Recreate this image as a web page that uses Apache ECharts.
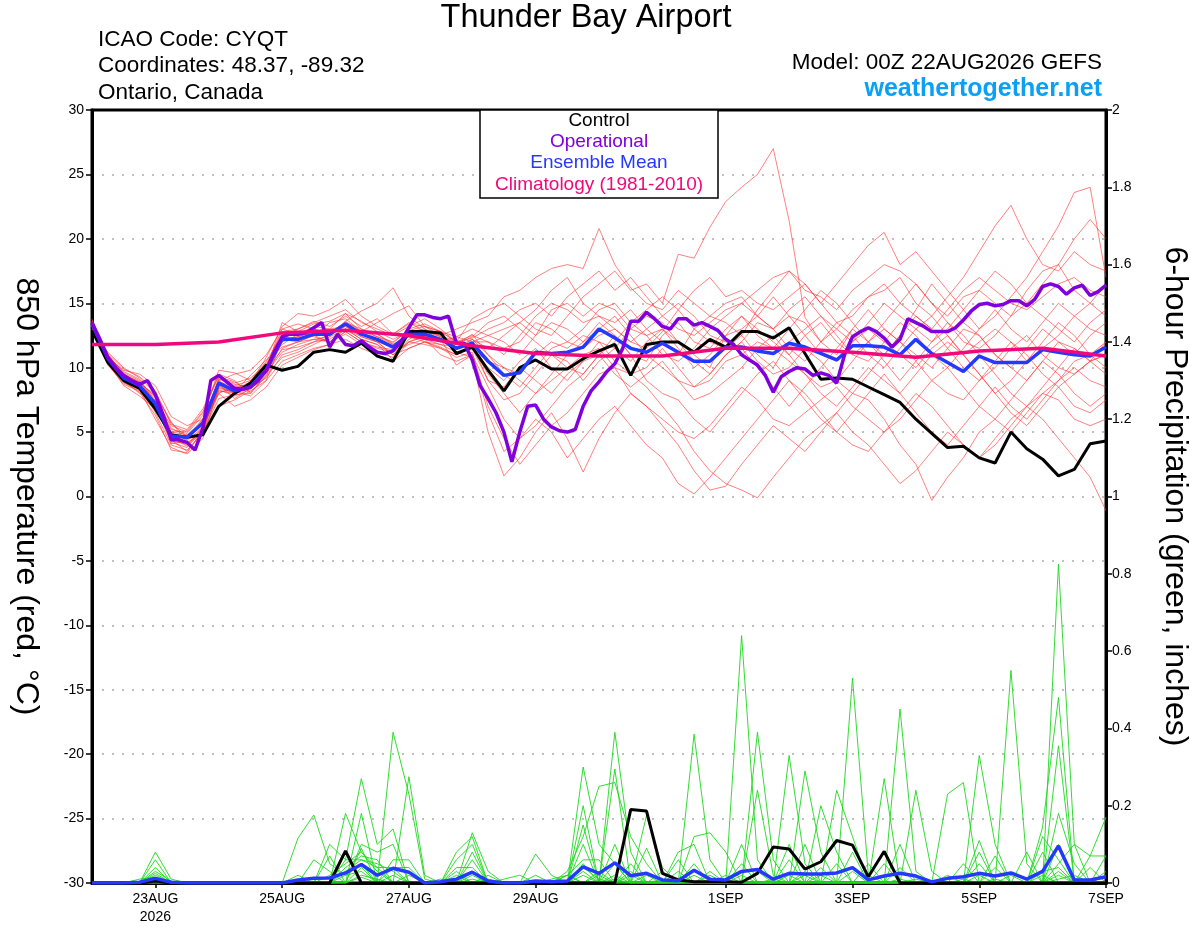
<!DOCTYPE html>
<html><head><meta charset="utf-8">
<script src="https://cdn.jsdelivr.net/npm/echarts@6/dist/echarts.min.js"></script>
<style>html,body{margin:0;padding:0;background:#fff}#c{width:1200px;height:927px}</style>
</head><body><div id="c"></div>
<script>
// ---------- axis / tick data ----------
const xLabelHours = [24, 72, 120, 168, 240, 288, 336, 384];
const xLabelTexts = ['23AUG\n2026', '25AUG', '27AUG', '29AUG', '1SEP', '3SEP', '5SEP', '7SEP'];
const stepHours = 6;        // ensemble / control / mean resolution
const opStepHours = 3;      // operational resolution
const climStepHours = 24;   // climatology resolution

// ---------- 850 hPa temperature (deg C), 6-hourly from 00Z 22AUG ----------
const controlTemp = [12.9,10.4,9.0,8.4,6.8,4.8,4.6,4.8,7.0,8.0,8.8,10.2,9.8,10.1,11.2,11.4,11.2,11.9,10.9,10.5,12.8,12.8,12.7,11.1,11.6,9.8,8.2,10.0,10.6,9.9,9.9,10.7,11.3,11.8,9.4,11.8,12.0,12.0,11.2,12.2,11.6,12.8,12.8,12.3,13.1,11.1,9.1,9.2,9.1,8.5,7.9,7.3,6.0,4.9,3.8,3.9,3.0,2.6,5.0,3.7,2.9,1.6,2.1,4.1,4.3];
const meanTemp = [13.4,10.7,9.2,8.6,7.2,4.7,4.6,5.7,8.8,8.2,8.5,9.8,12.2,12.2,12.6,12.6,13.4,12.6,12.2,11.6,12.6,12.6,12.2,11.5,11.9,10.5,9.4,9.6,11.2,11.1,11.2,11.6,13.0,12.3,11.5,11.2,11.9,11.2,10.5,10.5,11.6,11.6,11.3,11.1,11.9,11.6,11.1,10.6,11.7,11.7,11.6,11.0,12.2,11.1,10.4,9.7,10.9,10.4,10.4,10.4,11.4,11.2,11.0,10.9,11.6];
// operational: 3-hourly
const operationalTemp = [13.5,12.2,10.8,10.0,9.4,9.0,8.7,9.0,7.9,6.3,4.4,4.4,4.2,3.6,5.3,9.0,9.4,8.9,8.4,8.3,8.5,9.0,9.8,11.2,12.4,12.6,12.6,12.7,13.1,13.5,11.6,12.6,11.8,11.7,12.1,11.6,11.2,11.1,11.3,12.0,13.1,14.1,14.1,13.9,13.8,14.0,11.9,11.9,10.6,8.6,7.6,6.5,5.0,2.7,5.0,7.0,7.1,6.0,5.4,5.1,5.0,5.2,7.0,8.2,8.9,9.7,10.3,11.5,13.6,13.6,14.3,13.8,13.2,13.0,13.8,13.8,13.3,13.5,13.2,12.9,12.2,11.8,11.0,10.6,10.2,9.4,8.1,9.3,9.7,10.0,9.9,9.4,9.6,9.4,8.8,11.0,12.4,12.8,13.1,12.8,12.3,11.6,12.2,13.8,13.5,13.2,12.8,12.8,12.8,13.1,13.7,14.4,14.9,15.0,14.8,14.9,15.2,15.2,14.8,15.3,16.3,16.5,16.3,15.7,16.2,16.4,15.6,15.9,16.4];
// climatology: daily
const climatologyTemp = [11.8,11.8,12.0,12.7,12.9,12.5,11.7,11.1,10.9,10.9,11.5,11.5,11.2,10.8,11.3,11.5,10.9];

// ensemble members (red)
const tempM01 = [13.2,11.0,9.5,8.9,6.5,4.0,3.6,5.0,8.0,8.6,9.0,10.5,12.5,13.0,13.5,14.0,14.5,13.5,13.0,12.5,13.2,13.8,13.0,12.0,12.5,12.0,11.0,12.5,14.0,15.0,14.5,13.5,14.0,13.0,12.0,11.5,12.8,14.5,16.0,17.0,15.5,16.0,15.0,14.5,15.5,16.5,15.0,13.5,14.0,15.5,16.5,15.0,14.0,13.0,14.5,16.0,17.0,16.0,15.0,14.5,15.5,16.5,17.0,16.0,15.5];
const tempM02 = [13.6,10.5,9.0,8.0,7.5,5.5,5.0,6.5,9.5,9.0,8.0,9.5,11.5,12.0,12.5,12.0,13.0,12.2,11.8,11.0,12.0,12.5,12.2,11.8,12.6,11.0,9.5,8.5,10.0,11.5,12.0,13.0,14.5,15.0,13.5,12.5,13.0,12.0,11.0,10.0,12.5,13.0,14.0,15.5,14.0,12.5,11.0,10.5,12.0,13.0,12.0,11.0,10.0,11.5,12.5,11.0,9.5,8.0,9.0,10.5,12.0,13.5,12.5,11.0,12.0];
const tempM03 = [13.0,11.2,10.0,9.2,8.0,5.8,4.2,4.8,7.0,7.5,8.2,9.0,10.5,11.0,11.5,11.8,12.8,12.0,11.5,11.2,11.8,12.2,11.0,10.5,11.0,8.5,6.0,4.5,5.5,7.0,8.5,9.5,11.0,12.5,11.0,9.0,8.0,7.5,6.0,5.0,6.5,8.0,9.5,10.5,9.0,7.5,6.0,5.0,6.5,8.0,9.5,8.0,6.5,5.0,4.0,5.5,7.0,8.5,7.0,6.0,7.5,9.0,10.0,9.0,8.5];
const tempM04 = [13.8,10.2,8.8,8.3,6.0,3.8,3.3,4.5,8.5,8.0,8.8,10.8,13.2,14.2,14.0,14.5,15.3,14.0,13.2,12.6,13.5,12.8,12.5,13.0,13.5,14.0,15.5,16.0,17.0,17.7,18.0,17.7,20.8,18.0,16.2,15.0,14.5,16.0,15.0,14.0,15.0,15.5,14.0,13.0,14.0,13.5,12.0,13.0,14.5,15.5,16.0,17.0,15.0,14.0,15.5,17.0,19.0,21.0,22.6,20.0,18.0,17.5,19.0,18.0,17.5];
const tempM05 = [13.3,10.8,9.8,9.5,8.6,6.2,5.5,6.0,9.0,9.5,9.8,11.0,13.0,12.6,13.0,12.7,13.5,13.0,12.6,11.9,13.0,13.4,12.8,12.0,11.5,9.0,7.5,8.0,9.5,11.0,10.5,9.0,10.5,11.5,13.0,14.0,13.5,12.0,10.5,9.5,11.0,12.0,13.5,13.0,11.5,10.5,12.0,13.5,12.5,11.0,10.0,11.5,13.0,14.0,12.5,11.0,12.0,13.0,12.0,10.5,11.5,12.5,14.0,15.0,14.0];
const tempM06 = [13.5,10.6,9.0,8.5,7.0,4.5,4.0,5.2,8.6,8.0,8.4,9.2,11.0,11.4,12.0,12.2,13.0,12.4,12.0,11.0,11.5,12.0,11.5,10.8,11.2,7.0,4.5,2.5,4.0,5.5,6.5,8.0,9.5,10.0,9.5,8.5,7.0,5.5,3.5,2.0,1.0,0.5,-0.1,1.5,3.0,4.5,5.5,6.5,5.0,4.0,2.5,1.0,2.0,3.5,5.0,4.0,3.0,4.5,6.0,7.0,8.0,7.5,6.0,5.5,6.0];
const tempM07 = [13.1,10.9,9.4,8.8,7.8,5.0,4.8,5.8,8.0,7.0,7.5,8.5,10.2,10.8,11.4,11.8,12.2,11.5,11.0,10.5,11.5,12.0,11.8,11.2,10.8,5.0,1.6,3.0,5.0,6.5,4.5,1.9,4.5,6.5,8.0,7.0,5.5,4.0,2.0,0.5,0.8,2.5,4.0,5.5,4.5,3.5,5.0,6.5,8.0,7.5,6.0,4.0,2.5,-0.3,1.5,3.0,5.0,6.0,5.0,6.5,8.0,9.0,10.5,11.0,10.0];
const tempM08 = [13.6,10.4,8.6,7.8,6.8,4.4,3.5,5.0,9.2,8.8,9.2,10.2,12.8,13.0,13.6,13.2,14.0,13.2,13.8,12.6,13.4,13.2,12.8,12.0,12.3,13.0,13.5,14.5,15.0,14.0,15.5,16.5,17.5,16.0,17.0,15.5,14.0,13.0,12.5,13.5,14.5,15.0,16.0,17.0,17.5,16.0,15.5,14.5,16.0,17.0,18.0,17.5,16.5,15.0,14.0,15.5,16.0,15.0,14.0,15.0,16.5,18.0,20.0,21.5,20.0];
const tempM09 = [13.4,11.0,9.6,9.0,7.3,5.2,4.9,6.3,9.8,9.6,9.0,10.0,12.0,12.4,12.8,13.0,14.2,13.6,12.8,12.2,12.8,12.4,12.0,12.4,13.0,12.5,12.0,11.0,12.5,13.5,13.0,12.0,13.0,14.0,12.5,11.0,10.0,9.0,8.5,9.5,11.0,12.0,10.5,9.5,10.0,11.5,10.5,9.0,8.0,9.5,11.0,12.5,14.0,13.0,11.5,10.0,9.0,10.0,11.5,12.5,11.0,10.0,9.5,10.5,11.0];
const tempM10 = [13.2,10.7,9.3,8.7,7.6,4.2,3.8,5.5,8.3,7.8,8.3,9.6,11.2,11.8,12.2,12.0,12.8,12.0,11.6,11.4,12.4,12.0,11.6,11.0,11.6,10.0,9.0,10.5,11.5,10.0,9.0,10.5,12.0,11.5,10.5,12.0,13.0,11.5,10.0,11.0,12.5,14.0,12.5,11.5,13.0,14.5,16.0,15.0,13.5,12.0,11.0,12.5,14.5,16.5,15.0,13.5,12.5,11.0,10.0,11.5,13.0,12.0,11.0,12.5,13.5];
const tempM11 = [13.7,10.3,8.7,8.2,6.6,4.8,4.5,6.0,9.0,8.2,7.8,9.0,12.2,12.0,12.5,13.5,13.8,12.8,13.5,14.2,14.8,13.2,12.5,12.0,13.8,14.5,15.0,14.0,13.0,12.5,14.0,15.5,16.5,17.5,16.0,16.5,15.0,18.8,18.5,20.9,22.9,24.0,25.0,27.0,21.4,13.9,12.0,11.0,13.0,14.5,13.0,12.0,11.0,10.0,11.5,13.0,12.5,11.0,10.0,9.0,10.5,12.0,11.5,10.5,11.0];
const tempM12 = [13.0,11.1,9.9,9.3,8.2,5.6,5.2,6.8,9.4,8.4,8.6,9.9,13.5,12.8,12.4,12.0,12.6,11.8,11.2,10.8,12.2,12.8,12.6,11.4,12.2,11.0,10.0,9.5,11.0,12.0,11.5,12.5,12.0,10.5,9.5,10.0,11.5,10.0,8.5,9.0,10.5,11.0,12.0,11.5,10.5,9.5,8.5,9.0,10.5,12.0,13.0,12.0,10.5,9.0,8.0,7.5,9.0,10.5,12.0,11.0,9.5,8.5,7.0,6.5,7.5];
const tempM13 = [13.5,10.5,9.1,8.4,7.1,4.1,4.3,5.4,8.1,8.3,8.9,10.4,11.8,12.6,13.2,13.0,13.2,12.4,12.0,11.0,12.0,11.8,11.5,11.0,11.6,9.5,8.0,6.5,8.0,9.0,10.0,11.0,11.5,10.0,8.0,7.0,6.0,5.0,4.5,5.5,7.0,8.5,7.5,6.0,5.5,6.5,7.5,8.5,7.0,6.0,5.0,6.0,7.5,9.0,10.0,8.5,7.0,6.0,7.5,9.0,10.5,9.5,8.0,7.0,8.0];
const tempM14 = [13.3,10.8,9.2,8.6,6.9,4.6,3.9,5.0,7.6,7.9,8.0,9.4,10.8,11.2,11.8,12.4,13.6,14.4,15.0,16.2,14.0,13.0,12.4,11.5,12.0,12.5,13.0,13.5,14.5,16.0,17.0,15.0,14.0,13.5,14.5,13.0,12.0,11.0,13.0,12.0,11.5,12.5,14.5,16.0,17.5,16.5,15.0,16.5,18.0,19.5,20.5,18.0,19.0,17.5,16.0,14.5,13.0,14.0,15.5,17.0,19.0,21.0,23.6,24.0,17.0];
const tempM15 = [13.4,10.6,9.4,8.9,7.7,5.3,4.7,6.0,8.9,8.5,8.7,9.7,12.4,12.2,12.6,12.8,13.4,12.8,12.4,11.8,12.6,12.6,12.2,11.2,11.4,10.5,10.0,9.0,8.0,9.5,11.0,12.0,13.5,12.5,11.0,10.5,12.5,13.5,12.0,11.5,13.0,14.0,13.0,12.0,11.0,12.5,13.5,12.0,11.0,10.5,12.0,13.5,12.5,11.0,10.0,11.5,13.0,14.5,13.0,12.0,13.5,15.0,14.0,13.0,12.5];
const tempM16 = [13.6,10.9,9.7,9.1,7.4,4.9,4.4,5.9,9.1,8.7,8.5,10.1,13.0,13.4,13.0,12.6,13.2,12.6,12.2,11.6,12.8,13.0,12.0,11.8,12.4,13.5,14.0,13.0,12.0,11.0,10.0,9.5,11.0,12.0,13.5,14.5,15.5,14.5,13.0,14.0,13.5,12.5,11.0,10.0,12.0,13.0,14.0,13.0,12.0,13.5,15.0,14.0,13.0,12.0,13.0,14.5,16.0,17.5,16.5,15.0,14.0,13.0,12.0,13.5,14.5];
const tempM17 = [13.1,10.4,8.9,8.1,6.3,3.6,3.4,5.1,8.4,8.1,9.4,10.6,11.6,12.0,12.2,12.4,13.0,12.2,11.8,10.6,12.0,12.4,12.2,10.2,11.0,6.5,3.5,4.5,6.0,5.0,3.0,4.5,6.0,7.0,5.5,4.0,3.0,1.0,0.2,1.5,3.0,4.5,6.0,7.5,9.0,8.0,6.5,5.0,4.0,3.5,5.0,6.5,8.0,7.0,5.5,4.0,3.0,4.0,5.5,7.0,6.0,4.5,3.0,1.5,-1.1];
const tempM18 = [13.5,10.7,9.3,8.7,7.2,5.0,5.1,6.6,9.3,8.9,8.1,9.3,12.6,12.8,13.4,13.6,14.2,13.0,12.4,12.0,12.9,13.2,12.8,12.4,12.0,12.0,11.5,12.0,13.5,13.0,12.0,11.5,12.5,13.0,12.0,13.0,14.0,15.0,14.0,12.5,12.0,11.5,10.0,8.5,7.0,8.5,10.0,11.5,13.0,12.0,10.5,9.0,10.5,12.0,13.5,12.5,11.0,9.5,8.0,7.0,8.5,10.0,11.5,10.5,9.5];
const tempM19 = [13.2,11.0,9.5,8.8,7.9,5.7,4.6,5.6,8.7,7.6,8.4,9.8,11.4,11.6,12.0,12.6,13.4,12.6,12.0,11.6,12.6,12.8,12.4,11.6,11.8,9.0,8.5,10.0,9.0,8.0,9.5,10.5,11.0,9.5,8.5,9.5,10.5,9.0,7.5,8.0,9.0,10.0,11.5,12.5,11.0,9.5,8.0,7.0,8.5,10.0,9.0,8.0,9.5,11.0,12.0,11.0,9.5,8.0,6.5,5.5,7.0,8.5,9.5,10.5,12.0];
const tempM20 = [13.4,10.6,9.1,8.5,7.0,4.3,4.1,5.3,8.2,8.0,8.6,10.0,12.2,12.4,12.8,12.6,13.6,12.8,12.6,11.8,12.4,12.2,11.8,11.6,12.2,11.5,12.5,13.5,12.5,14.5,15.0,14.0,15.0,14.5,13.0,12.5,11.0,10.5,11.5,13.0,14.0,15.0,14.0,13.0,14.5,15.5,14.0,12.5,11.0,12.0,13.5,15.0,16.5,15.0,13.5,12.0,11.5,12.5,14.0,16.0,17.5,18.0,16.0,15.0,16.5];
const tempMembers = [tempM01,tempM02,tempM03,tempM04,tempM05,tempM06,tempM07,tempM08,tempM09,tempM10,tempM11,tempM12,tempM13,tempM14,tempM15,tempM16,tempM17,tempM18,tempM19,tempM20];

// ---------- 6-hour precipitation (inches) ----------
const controlPrecip = [0,0,0,0,0.005,0,0,0, 0,0,0,0,0,0,0,0, 0.083,0,0,0,0,0,0,0, 0,0,0,0,0,0,0,0, 0,0,0.19,0.186,0.025,0.008,0.003,0.003, 0.003,0.002,0.025,0.093,0.088,0.036,0.055,0.11, 0.098,0.016,0.082,0,0,0,0,0, 0,0,0,0,0,0,0,0, 0];
const meanPrecip = [0,0,0,0.002,0.012,0.002,0,0, 0,0,0,0,0,0.008,0.012,0.013, 0.026,0.048,0.02,0.038,0.028,0,0.003,0.01, 0.028,0.005,0,0,0.005,0.003,0.005,0.042, 0.025,0.052,0.019,0.025,0.008,0.006,0.033,0.01, 0.008,0.03,0.035,0.01,0.025,0.023,0.023,0.026, 0.04,0.008,0.018,0.025,0.018,0.003,0.012,0.016, 0.025,0.018,0.026,0.01,0.03,0.096,0.008,0.008, 0.016];
const precipM01 = [0,0,0,0,0.08,0.01,0,0, 0,0,0,0,0,0.116,0.176,0.05, 0.02,0.05,0,0.04,0,0,0,0, 0.06,0,0,0,0,0,0,0.30, 0.1,0.05,0,0,0,0,0.385,0.06, 0,0.05,0,0,0.06,0,0,0, 0.53,0.02,0,0,0,0,0,0, 0.11,0,0,0,0,0.18,0.05,0, 0];
const precipM02 = [0,0,0,0,0.06,0,0,0, 0,0,0,0,0,0,0,0, 0.18,0.08,0.03,0,0.275,0.02,0,0, 0.13,0.03,0,0,0,0,0,0.2, 0,0.39,0.08,0,0,0,0,0, 0,0.64,0.06,0,0,0,0.04,0, 0,0,0,0.45,0.03,0,0,0, 0,0,0.55,0.05,0,0.1,0,0, 0.07];
const precipM03 = [0,0,0,0,0.04,0,0,0, 0,0,0,0,0,0,0,0.1, 0.06,0.27,0.1,0.14,0,0,0,0.08, 0.12,0,0,0,0.075,0.02,0,0.15, 0,0.295,0,0.09,0,0,0,0, 0,0,0.39,0.06,0,0.1,0,0, 0,0,0.27,0,0,0,0,0.05, 0,0,0,0,0,0.825,0.1,0, 0];
const precipM04 = [0,0,0,0,0.03,0.005,0,0, 0,0,0,0,0,0,0,0, 0,0.18,0,0.39,0.23,0.01,0,0.06, 0.1,0,0,0,0,0,0.03,0.12, 0.25,0.26,0.12,0.05,0,0,0,0, 0,0,0,0,0.33,0.05,0,0, 0,0,0,0,0.24,0.03,0,0, 0,0,0,0,0.145,0.48,0,0, 0];
const precipM05 = [0,0,0,0,0.025,0,0,0, 0,0,0,0,0,0,0,0.07, 0,0.1,0.08,0.1,0,0,0,0, 0.08,0,0,0,0.02,0,0,0.1, 0,0.1,0,0.175,0.04,0,0.12,0.13, 0.08,0,0,0,0,0,0,0.24, 0.12,0,0,0,0,0,0,0, 0.33,0.1,0,0,0,0.355,0,0.07, 0.17];
const precipM06 = [0,0,0,0,0.02,0,0,0, 0,0,0,0,0,0,0.06,0.03, 0,0.09,0,0.06,0.06,0,0,0.04, 0.04,0,0,0,0,0,0.02,0.06, 0.06,0,0.05,0,0,0.08,0.1,0, 0,0,0,0,0,0.29,0.08,0, 0,0,0,0,0,0,0.23,0.26, 0,0,0,0,0.12,0.06,0,0, 0];
const precipM07 = [0,0,0,0.01,0.015,0,0,0, 0,0,0,0,0,0,0,0, 0.04,0.07,0.06,0,0,0,0.01,0, 0,0.02,0,0,0,0,0,0.04, 0.01,0,0.03,0,0,0.06,0,0, 0,0,0.24,0.02,0,0,0.2,0.08, 0,0,0,0.1,0,0,0,0, 0,0.07,0,0,0.08,0,0,0, 0.02];
const precipM08 = [0,0,0,0,0.01,0,0,0, 0,0,0,0,0,0.02,0,0, 0.06,0.06,0.04,0.04,0.04,0,0,0.03, 0,0,0.01,0.02,0,0.01,0.02,0, 0,0.05,0,0,0.03,0,0,0.03, 0,0.1,0,0,0.1,0,0,0, 0,0.05,0,0.04,0,0,0,0, 0.08,0,0,0,0,0.02,0,0, 0];
const precipM09 = [0,0,0,0,0.01,0,0,0, 0,0,0,0,0,0,0,0, 0.03,0.06,0.05,0.03,0,0,0,0, 0,0.01,0,0,0,0,0.02,0, 0.03,0,0,0.02,0,0,0.05,0, 0.02,0,0.03,0,0,0,0,0.05, 0,0,0.05,0,0,0,0.02,0, 0,0.04,0,0.08,0,0,0,0.04, 0];
const precipM10 = [0,0,0,0,0,0,0,0, 0,0,0,0,0,0,0,0.02, 0.05,0.08,0.04,0,0,0,0,0, 0.03,0,0,0,0,0,0,0.05, 0,0.02,0,0,0.01,0,0,0.02, 0,0,0,0,0,0.03,0,0, 0.08,0,0,0,0.01,0,0,0, 0.05,0,0,0,0.03,0.04,0,0, 0.03];
const precipM11 = [0,0,0,0,0,0,0,0, 0,0,0,0,0,0,0,0, 0,0.04,0,0.02,0,0,0,0.02, 0,0,0,0,0,0,0,0.03, 0,0,0.02,0,0,0.03,0,0, 0,0,0,0.01,0,0,0.02,0, 0,0,0,0,0,0,0,0.01, 0,0,0.02,0,0,0.03,0,0, 0];
const precipM12 = [0,0,0,0,0,0,0,0, 0,0,0,0,0,0,0,0, 0.02,0.03,0,0,0.02,0,0,0, 0.02,0,0,0,0,0,0,0, 0.02,0,0,0,0,0,0.02,0, 0,0,0,0,0.02,0,0,0, 0.03,0,0,0,0,0,0,0, 0.02,0,0,0,0,0.01,0.02,0, 0];
const precipM13 = [0,0,0,0,0.005,0,0,0, 0,0,0,0,0,0,0,0, 0,0.02,0.01,0,0,0,0,0, 0,0,0,0,0,0,0,0, 0,0.01,0,0,0,0,0,0, 0,0.02,0,0,0,0,0,0, 0,0,0,0.01,0,0,0,0, 0,0,0,0,0.02,0,0,0, 0];
const precipM14 = [0,0,0,0,0,0,0,0, 0,0,0,0,0,0,0,0, 0,0.015,0,0,0,0,0,0, 0.01,0,0,0,0,0,0,0.02, 0,0,0,0,0,0,0,0, 0,0,0,0,0,0.02,0,0, 0,0,0,0,0,0,0,0, 0,0.01,0,0,0,0.05,0.1,0.07, 0.07];
const precipMembers = [precipM01,precipM02,precipM03,precipM04,precipM05,precipM06,precipM07,precipM08,precipM09,precipM10,precipM11,precipM12,precipM13,precipM14];

// ---------- build chart ----------
const FONT = '"Liberation Sans", Arial, Helvetica, sans-serif';
const toPairs = (arr, step) => arr.map((v, i) => [i * step, v]);
const series = [];

precipMembers.forEach(arr => series.push({
  type: 'line', yAxisIndex: 1, data: toPairs(arr, stepHours), symbol: 'none', silent: true,
  lineStyle: { color: 'rgba(30,215,30,0.9)', width: 1 }, z: 2
}));
tempMembers.forEach(arr => series.push({
  type: 'line', yAxisIndex: 0, data: toPairs(arr, stepHours), symbol: 'none', silent: true,
  lineStyle: { color: 'rgba(255,45,45,0.6)', width: 1 }, z: 3
}));
series.push({ name: 'ControlP', type: 'line', yAxisIndex: 1, data: toPairs(controlPrecip, stepHours), symbol: 'none', lineStyle: { color: '#000', width: 3 }, z: 5 });
series.push({ name: 'MeanP', type: 'line', yAxisIndex: 1, data: toPairs(meanPrecip, stepHours), symbol: 'none', lineStyle: { color: '#2438ff', width: 3.5 }, z: 6 });
series.push({ name: 'Control', type: 'line', yAxisIndex: 0, data: toPairs(controlTemp, stepHours), symbol: 'none', lineStyle: { color: '#000', width: 3 }, z: 5 });
series.push({ name: 'Mean', type: 'line', yAxisIndex: 0, data: toPairs(meanTemp, stepHours), symbol: 'none', lineStyle: { color: '#2438ff', width: 3.5 }, z: 6 });
series.push({ name: 'Operational', type: 'line', yAxisIndex: 0, data: toPairs(operationalTemp, opStepHours), symbol: 'none', lineStyle: { color: '#7f00dc', width: 3.5 }, z: 7 });
series.push({ name: 'Climatology', type: 'line', yAxisIndex: 0, data: toPairs(climatologyTemp, climStepHours), symbol: 'none', lineStyle: { color: '#f0087c', width: 3.5 }, z: 8 });

const txt = (x, y, text, opts) => Object.assign({
  type: 'text', x: x, y: y, z: 200,
  style: Object.assign({ text: text, fill: '#000', fontFamily: FONT, fontSize: 22.5,
    align: 'left', textAlign: 'left', verticalAlign: 'middle', textVerticalAlign: 'middle' }, opts || {})
});

const option = {
  animation: false,
  backgroundColor: '#fff',
  grid: { left: 92, right: 94, top: 110, bottom: 44, show: true, borderColor: '#000', borderWidth: 3, backgroundColor: 'rgba(0,0,0,0)' },
  xAxis: {
    type: 'value', min: 0, max: 384, interval: 24,
    splitLine: { show: false },
    axisLine: { show: true, onZero: false, lineStyle: { color: '#000', width: 3 } },
    axisTick: { show: true, customValues: xLabelHours, length: 5, lineStyle: { color: '#000', width: 1.5 } },
    axisLabel: { customValues: xLabelHours, color: '#000', fontSize: 14, fontFamily: FONT, margin: 7, lineHeight: 18,
      formatter: v => { const k = xLabelHours.indexOf(v); return k >= 0 ? xLabelTexts[k] : ''; } }
  },
  yAxis: [
    {
      type: 'value', min: -30, max: 30, interval: 5, position: 'left',
      name: '850 hPa Temperature (red, °C)', nameLocation: 'middle', nameGap: 50, nameRotate: -90,
      nameTextStyle: { fontSize: 32, color: '#000', fontFamily: FONT },
      axisLine: { show: true, onZero: false, lineStyle: { color: '#000', width: 3 } },
      axisTick: { show: true, length: 6, lineStyle: { color: '#000', width: 1.5 } },
      axisLabel: { color: '#000', fontSize: 14, fontFamily: FONT, margin: 8 },
      splitLine: { show: true, showMinLine: false, showMaxLine: false, lineStyle: { color: '#aaaaaa', type: [2, 8], width: 1.5 } }
    },
    {
      type: 'value', min: 0, max: 2, interval: 0.2, position: 'right',
      name: '6-hour Precipitation (green, inches)', nameLocation: 'middle', nameGap: 53, nameRotate: -90,
      nameTextStyle: { fontSize: 32, color: '#000', fontFamily: FONT },
      axisLine: { show: true, onZero: false, lineStyle: { color: '#000', width: 3 } },
      axisTick: { show: true, length: 6, lineStyle: { color: '#000', width: 1.5 } },
      axisLabel: { color: '#000', fontSize: 14, fontFamily: FONT, margin: 6 },
      splitLine: { show: false }
    }
  ],
  series: series,
  graphic: [
    txt(586, 18, 'Thunder Bay Airport', { fontSize: 32.5, align: 'center', textAlign: 'center' }),
    txt(98, 40, 'ICAO Code: CYQT'),
    txt(98, 66, 'Coordinates: 48.37, -89.32'),
    txt(98, 93, 'Ontario, Canada'),
    txt(1102, 63, 'Model: 00Z 22AUG2026 GEFS', { align: 'right', textAlign: 'right' }),
    txt(1102, 89, 'weathertogether.net', { align: 'right', textAlign: 'right', fontWeight: 'bold', fontSize: 25, fill: '#0aa0f5' }),
    { type: 'rect', z: 150, shape: { x: 480, y: 110, width: 238, height: 88 }, style: { fill: '#fff', stroke: '#000', lineWidth: 1.5 } },
    txt(599, 121, 'Control', { fontSize: 19, align: 'center', textAlign: 'center' }),
    txt(599, 142, 'Operational', { fontSize: 19, align: 'center', textAlign: 'center', fill: '#7f00dc' }),
    txt(599, 163, 'Ensemble Mean', { fontSize: 19, align: 'center', textAlign: 'center', fill: '#2438ff' }),
    txt(599, 185, 'Climatology (1981-2010)', { fontSize: 19, align: 'center', textAlign: 'center', fill: '#f0087c' })
  ]
};

const chart = echarts.init(document.getElementById('c'), null, { renderer: 'canvas' });
chart.setOption(option);
</script></body></html>
